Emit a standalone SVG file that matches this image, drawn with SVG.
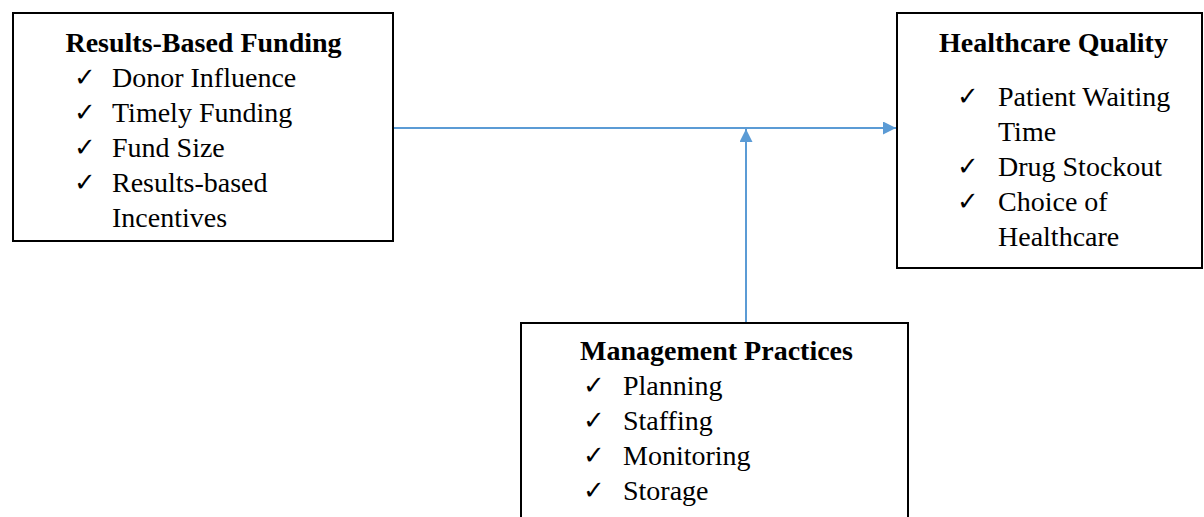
<svg xmlns="http://www.w3.org/2000/svg" width="1204" height="517" viewBox="0 0 1204 517">
  <style>
    .box { fill: #ffffff; stroke: #000000; stroke-width: 2; }
    .title { font-family: "Liberation Serif", "Times New Roman", serif; font-size: 28px; font-weight: bold; fill: #000000; }
    .item { font-family: "Liberation Serif", "Times New Roman", serif; font-size: 28px; fill: #000000; }
    .tick { font-family: "DejaVu Sans", sans-serif; font-size: 26px; fill: #000000; }
    .link { fill: none; stroke: #5B9BD5; stroke-width: 2; }
  </style>
  <defs>
    <marker id="arrow" viewBox="0 0 10 10" refX="10" refY="5" markerWidth="6.5" markerHeight="6.5" orient="auto" markerUnits="strokeWidth">
      <path d="M0,0 L10,5 L0,10 Z" fill="#5B9BD5"/>
    </marker>
  </defs>

  <rect width="1204" height="517" fill="#ffffff"/>

  <!-- connectors -->
  <g id="connectors">
    <path class="link" d="M393,128 H896" marker-end="url(#arrow)"/>
    <path class="link" d="M746,323 V129" marker-end="url(#arrow)"/>
  </g>

  <!-- Results-Based Funding -->
  <g id="results-based-funding">
    <rect class="box" x="13" y="13" width="380" height="228"/>
    <text class="title" x="203.5" y="52" text-anchor="middle">Results-Based Funding</text>
    <text class="tick" x="74" y="86">✓</text>
    <text class="item" x="112" y="87">Donor Influence</text>
    <text class="tick" x="74" y="121">✓</text>
    <text class="item" x="112" y="122">Timely Funding</text>
    <text class="tick" x="74" y="156">✓</text>
    <text class="item" x="112" y="157">Fund Size</text>
    <text class="tick" x="74" y="191">✓</text>
    <text class="item" x="112" y="192">Results-based</text>
    <text class="item" x="112" y="227">Incentives</text>
  </g>

  <!-- Healthcare Quality -->
  <g id="healthcare-quality">
    <rect class="box" x="897" y="13" width="305" height="255"/>
    <text class="title" x="1053.5" y="52" text-anchor="middle">Healthcare Quality</text>
    <text class="tick" x="957" y="105">✓</text>
    <text class="item" x="998" y="106">Patient Waiting</text>
    <text class="item" x="998" y="141">Time</text>
    <text class="tick" x="957" y="175">✓</text>
    <text class="item" x="998" y="176">Drug Stockout</text>
    <text class="tick" x="957" y="210">✓</text>
    <text class="item" x="998" y="211">Choice of</text>
    <text class="item" x="998" y="246">Healthcare</text>
  </g>

  <!-- Management Practices -->
  <g id="management-practices">
    <rect class="box" x="521" y="323" width="387" height="210"/>
    <text class="title" x="716.5" y="360" text-anchor="middle">Management Practices</text>
    <text class="tick" x="583" y="394">✓</text>
    <text class="item" x="623" y="395">Planning</text>
    <text class="tick" x="583" y="429">✓</text>
    <text class="item" x="623" y="430">Staffing</text>
    <text class="tick" x="583" y="464">✓</text>
    <text class="item" x="623" y="465">Monitoring</text>
    <text class="tick" x="583" y="499">✓</text>
    <text class="item" x="623" y="500">Storage</text>
  </g>
</svg>
